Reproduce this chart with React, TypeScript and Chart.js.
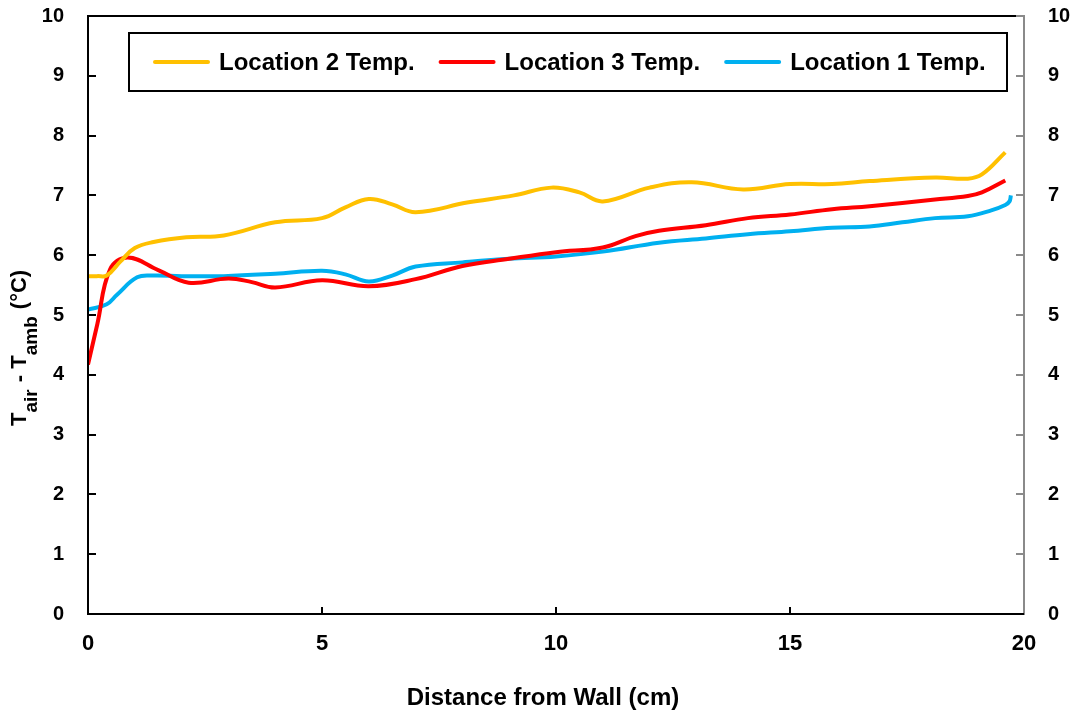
import React, { useEffect, useRef } from "react";
import { Chart, registerables } from "chart.js";

Chart.register(...registerables);

// Location 2 (yellow)
const distance2 = [0, 0.2, 0.4, 0.7, 1.0, 1.4, 2.1, 2.9, 4.0, 5.0, 5.5, 6.0, 6.5, 7.0, 8.1, 9.1, 9.9, 10.5, 11.0, 12.0, 12.9, 14.0, 15.0, 15.9, 16.7, 18.1, 18.8, 19.1, 19.6];
const temp2 = [5.65, 5.65, 5.66, 5.9, 6.12, 6.22, 6.3, 6.33, 6.55, 6.62, 6.8, 6.94, 6.85, 6.72, 6.88, 7.0, 7.13, 7.05, 6.9, 7.13, 7.22, 7.1, 7.19, 7.19, 7.24, 7.3, 7.28, 7.35, 7.72];

// Location 3 (red)
const distance3 = [0, 0.2, 0.47, 0.85, 1.5, 2.15, 3.0, 3.5, 4.0, 5.0, 6.0, 7.0, 8.0, 9.0, 10.0, 11.0, 11.7, 12.2, 13.2, 14.1, 15.0, 15.9, 16.7, 18.1, 18.8, 19.1, 19.6];
const temp3 = [4.17, 4.85, 5.76, 5.96, 5.75, 5.54, 5.61, 5.55, 5.46, 5.58, 5.48, 5.6, 5.82, 5.94, 6.05, 6.13, 6.32, 6.41, 6.5, 6.62, 6.68, 6.77, 6.82, 6.93, 6.99, 7.05, 7.25];

// Location 1 (blue)
const distance1 = [0, 0.4, 0.62, 1.05, 1.4, 2.0, 2.9, 4.0, 5.0, 5.5, 6.0, 6.5, 7.0, 8.0, 9.0, 10.0, 11.0, 12.2, 13.2, 14.1, 15.0, 15.9, 16.7, 17.4, 18.1, 18.8, 19.3, 19.6, 19.69, 19.72];
const temp1 = [5.09, 5.18, 5.34, 5.63, 5.66, 5.65, 5.65, 5.69, 5.74, 5.68, 5.56, 5.66, 5.81, 5.88, 5.94, 5.98, 6.06, 6.21, 6.28, 6.35, 6.4, 6.46, 6.48, 6.55, 6.62, 6.65, 6.75, 6.84, 6.9, 7.0];

const seriesLabels = ["Location 2 Temp.", "Location 3 Temp.", "Location 1 Temp."];
const seriesColors = ["#FFC000", "#FF0000", "#00B0F0"];

const xTickValues = [0, 5, 10, 15, 20];
const yTickValues = [0, 1, 2, 3, 4, 5, 6, 7, 8, 9, 10];

const xTitle = "Distance from Wall (cm)";

const FONT = "'Liberation Sans', Arial, Helvetica, sans-serif";

const toPoints = (xs: number[], ys: number[]) => xs.map((x, i) => ({ x, y: ys[i] }));

// Axis frame with inward tick marks
const framePlugin = {
  id: "frame",
  afterDatasetsDraw(chart: any) {
    const { ctx, chartArea, scales } = chart;
    const { left, right, top, bottom } = chartArea;
    ctx.save();
    ctx.lineCap = "butt";
    ctx.lineWidth = 2;
    ctx.strokeStyle = "#000";
    yTickValues.forEach((v) => {
      const py = Math.round(scales.y.getPixelForValue(v));
      ctx.beginPath();
      ctx.moveTo(left, py);
      ctx.lineTo(left + 8, py);
      ctx.stroke();
    });
    xTickValues.forEach((v) => {
      const px = Math.round(scales.x.getPixelForValue(v));
      ctx.beginPath();
      ctx.moveTo(px, bottom);
      ctx.lineTo(px, bottom - 7);
      ctx.stroke();
    });
    ctx.strokeStyle = "#8a8a8a";
    yTickValues.forEach((v) => {
      const py = Math.round(scales.y2.getPixelForValue(v));
      ctx.beginPath();
      ctx.moveTo(right - 8, py);
      ctx.lineTo(right, py);
      ctx.stroke();
    });
    ctx.beginPath();
    ctx.moveTo(right, top - 1);
    ctx.lineTo(right, bottom + 1);
    ctx.stroke();
    ctx.strokeStyle = "#000";
    ctx.beginPath();
    ctx.moveTo(left, top - 1);
    ctx.lineTo(left, bottom + 1);
    ctx.moveTo(left - 1, bottom);
    ctx.lineTo(right, bottom);
    ctx.moveTo(left - 1, top);
    ctx.lineTo(right - 8, top);
    ctx.stroke();
    ctx.restore();
  },
};

// Boxed legend inside the plot area
const boxLegendPlugin = {
  id: "boxLegend",
  afterDraw(chart: any) {
    const { ctx, chartArea } = chart;
    const boxL = chartArea.left + 41;
    const boxT = chartArea.top + 17;
    const boxR = chartArea.right - 17;
    const boxB = chartArea.top + 75;
    ctx.save();
    ctx.fillStyle = "#fff";
    ctx.fillRect(boxL, boxT, boxR - boxL, boxB - boxT);
    ctx.strokeStyle = "#000";
    ctx.lineWidth = 2;
    ctx.strokeRect(boxL, boxT, boxR - boxL, boxB - boxT);
    const cy = (boxT + boxB) / 2;
    ctx.font = `bold 24px ${FONT}`;
    ctx.textBaseline = "middle";
    ctx.textAlign = "left";
    let x = boxL + 26;
    chart.data.datasets.forEach((ds: any) => {
      ctx.strokeStyle = ds.borderColor;
      ctx.lineWidth = 4;
      ctx.lineCap = "round";
      ctx.beginPath();
      ctx.moveTo(x, cy);
      ctx.lineTo(x + 53, cy);
      ctx.stroke();
      ctx.fillStyle = "#000";
      ctx.fillText(ds.label, x + 64, cy + 1);
      x += 64 + ctx.measureText(ds.label).width + 26;
    });
    ctx.restore();
  },
};

// Axis titles, the vertical one with subscripts
const axisTitlesPlugin = {
  id: "axisTitles",
  afterDraw(chart: any) {
    const { ctx, chartArea } = chart;
    ctx.save();
    ctx.fillStyle = "#000";
    ctx.font = `bold 24px ${FONT}`;
    ctx.textAlign = "center";
    ctx.textBaseline = "middle";
    ctx.fillText(xTitle, 543, chartArea.bottom + 84);

    ctx.translate(chartArea.left - 62, chartArea.bottom - 188);
    ctx.rotate(-Math.PI / 2);
    ctx.textAlign = "left";
    ctx.textBaseline = "alphabetic";
    const parts: [string, boolean][] = [
      ["T", false],
      ["air", true],
      [" - T", false],
      ["amb", true],
      [" (°C)", false],
    ];
    let x = 0;
    parts.forEach(([t, sub]) => {
      ctx.font = sub ? `bold 19px ${FONT}` : `bold 22px ${FONT}`;
      ctx.fillText(t, x, sub ? 11 : 0);
      x += ctx.measureText(t).width + (sub ? 1 : 0);
    });
    ctx.restore();
  },
};

const zeroPadding = (scale: any) => {
  scale.paddingTop = 0;
  scale.paddingBottom = 0;
  scale.paddingLeft = 0;
  scale.paddingRight = 0;
};

export default function App() {
  const canvasRef = useRef<HTMLCanvasElement | null>(null);

  useEffect(() => {
    if (!canvasRef.current) return;
    const series = [
      toPoints(distance2, temp2),
      toPoints(distance3, temp3),
      toPoints(distance1, temp1),
    ];
    const tickFont = { family: FONT, size: 20, weight: "bold" as const };
    const chart = new Chart(canvasRef.current, {
      type: "line",
      data: {
        datasets: series.map((data, i) => ({
          label: seriesLabels[i],
          data,
          borderColor: seriesColors[i],
          backgroundColor: seriesColors[i],
          borderWidth: 4,
          pointRadius: 0,
          pointHoverRadius: 0,
          tension: 0.4,
          fill: false,
          yAxisID: "y",
        })),
      },
      options: {
        responsive: false,
        animation: false,
        events: [],
        layout: { padding: { top: 16, left: 0, right: 0, bottom: 0 } },
        plugins: {
          legend: { display: false },
          tooltip: { enabled: false },
          title: { display: false },
        },
        scales: {
          x: {
            type: "linear",
            min: 0,
            max: 20,
            afterBuildTicks: (scale: any) => {
              scale.ticks = xTickValues.map((v) => ({ value: v }));
            },
            afterFit: (scale: any) => {
              scale.height = 101;
              zeroPadding(scale);
            },
            grid: { display: false, drawTicks: false, tickLength: 0 },
            border: { display: false },
            ticks: {
              color: "#000",
              font: { family: FONT, size: 22, weight: "bold" },
              padding: 17,
              maxRotation: 0,
              autoSkip: false,
            },
          },
          y: {
            type: "linear",
            position: "left",
            min: 0,
            max: 10,
            afterBuildTicks: (scale: any) => {
              scale.ticks = yTickValues.map((v) => ({ value: v }));
            },
            afterFit: (scale: any) => {
              scale.width = 88;
              zeroPadding(scale);
            },
            grid: { display: false, drawTicks: false, tickLength: 0 },
            border: { display: false },
            ticks: { color: "#000", font: tickFont, padding: 24, autoSkip: false },
          },
          y2: {
            type: "linear",
            position: "right",
            min: 0,
            max: 10,
            afterBuildTicks: (scale: any) => {
              scale.ticks = yTickValues.map((v) => ({ value: v }));
            },
            afterFit: (scale: any) => {
              scale.width = 57;
              zeroPadding(scale);
            },
            grid: { display: false, drawTicks: false, tickLength: 0 },
            border: { display: false },
            ticks: { color: "#000", font: tickFont, padding: 24, autoSkip: false },
          },
        },
      },
      plugins: [framePlugin, boxLegendPlugin, axisTitlesPlugin],
    } as any);
    return () => chart.destroy();
  }, []);

  return (
    <div style={{ position: "absolute", left: 0, top: 0, width: 1081, height: 715, background: "#fff" }}>
      <canvas ref={canvasRef} width={1081} height={715} style={{ display: "block" }} />
    </div>
  );
}
